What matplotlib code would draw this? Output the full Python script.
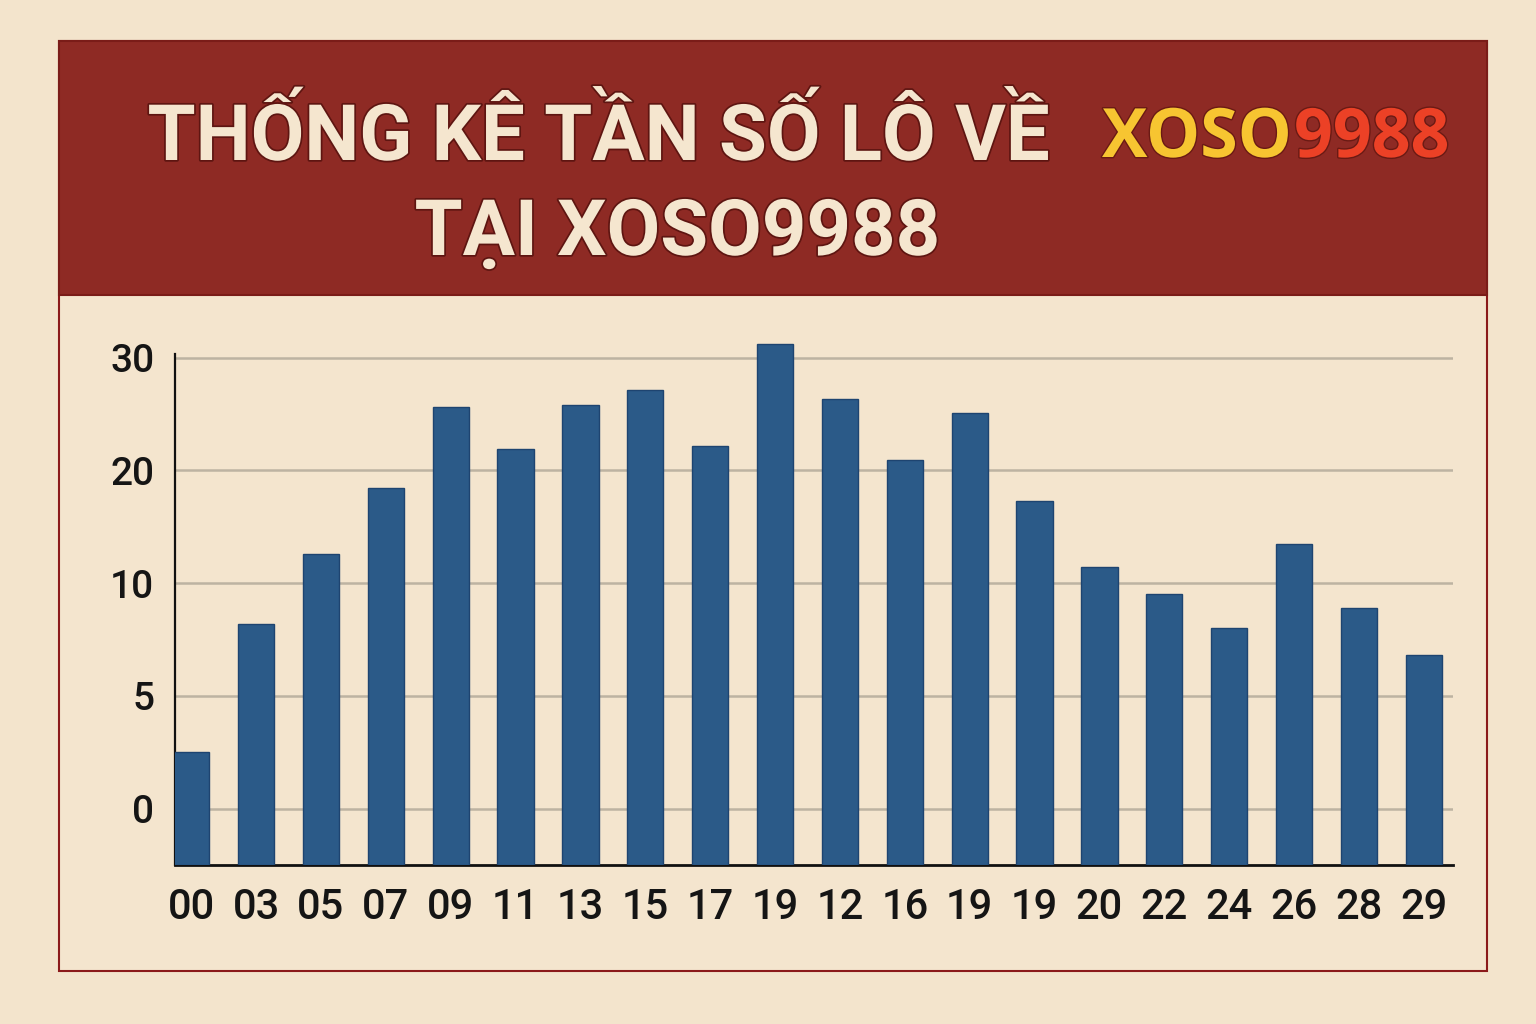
import numpy as np
import matplotlib
matplotlib.use("Agg")
import matplotlib.pyplot as plt
import matplotlib.patheffects as pe
from matplotlib.patches import Rectangle

# data
so_lo = ["00", "03", "05", "07", "09", "11", "13", "15", "17", "19",
         "12", "16", "19", "19", "20", "22", "24", "26", "28", "29"]
tan_so = [2.5, 8.2, 12.6, 18.4, 25.6, 21.9, 25.8, 27.1, 22.2, 31.2,
          26.3, 20.9, 25.1, 17.3, 11.4, 9.5, 8.0, 13.5, 8.9, 6.8]
y_ticks = [0, 5, 10, 20, 30]

title_1 = "THỐNG KÊ TẦN SỐ LÔ VỀ"
title_2 = "TẠI XOSO9988"

BG = "#F3E4CC"
RED = "#8E2A24"
BAR = "#2B5A88"

W, H = 1536, 1024
fig = plt.figure(figsize=(W / 100, H / 100), dpi=100, facecolor=BG)

def fx(px):
    return px / W

def fy(py):
    return 1 - py / H

# outer frame + red header
fig.add_artist(Rectangle((fx(59), fy(971)), fx(1487) - fx(59), fy(41) - fy(971),
                         transform=fig.transFigure, facecolor="#F4E5CE",
                         edgecolor="#8B1A1A", lw=1.5, zorder=0))
fig.add_artist(Rectangle((fx(59), fy(295)), fx(1487) - fx(59), fy(41) - fy(295),
                         transform=fig.transFigure, facecolor=RED,
                         edgecolor="#7A1C18", lw=1.5, zorder=1))

outline = [pe.withStroke(linewidth=2.5, foreground="#5E1511")]
fig.text(fx(598), fy(160), title_1, ha="center", va="baseline", fontsize=56,
         family="Roboto", weight="bold", color="#F5E6CF", path_effects=outline)
fig.text(fx(677), fy(255), title_2, ha="center", va="baseline", fontsize=56,
         family="Roboto", weight="bold", color="#F5E6CF", path_effects=outline)
logo_fx = [pe.withStroke(linewidth=2, foreground="#6A1A14")]
fig.text(fx(1292), fy(157), "XOSO", ha="right", va="baseline", fontsize=49,
         family="Open Sans", weight="bold", color="#F7C531", path_effects=logo_fx)
fig.text(fx(1294), fy(157), "9988", ha="left", va="baseline", fontsize=49,
         family="Open Sans", weight="bold", color="#EC4126", path_effects=logo_fx)

# piecewise axis: 0,5,10,20,30 equally spaced
tick_pos = [0, 1, 2, 3, 4]

def forward(v):
    v = np.asarray(v, dtype=float)
    out = np.interp(v, y_ticks, tick_pos)
    out = np.where(v < 0, v / 5.0, out)
    out = np.where(v > 30, 4 + (v - 30) / 10.0, out)
    return out

def inverse(p):
    p = np.asarray(p, dtype=float)
    out = np.interp(p, tick_pos, y_ticks)
    out = np.where(p < 0, p * 5.0, out)
    out = np.where(p > 4, 30 + (p - 4) * 10.0, out)
    return out

ax = fig.add_axes([fx(175), fy(865), fx(1453) - fx(175), fy(335) - fy(865)])
ax.set_facecolor("none")
ax.set_yscale("function", functions=(forward, inverse))

y_bottom = -2.5
x = np.arange(len(so_lo))
vals = np.array(tan_so)
ax.bar(x, vals - y_bottom, bottom=y_bottom, width=0.56, color=BAR,
       edgecolor="#1E4470", linewidth=1, zorder=3)

ax.set_ylim(y_bottom, 32.0)
ax.set_xlim(-0.25, 19.45)
ax.set_yticks(y_ticks)
ax.set_yticklabels([str(t) for t in y_ticks])
ax.set_xticks(x)
ax.set_xticklabels(so_lo)
ax.yaxis.grid(True, color="#BDB3A2", lw=1.8, zorder=1)
ax.tick_params(axis="y", length=0, pad=15, labelsize=28, labelcolor="#151515")
ax.tick_params(axis="x", length=0, pad=16, labelsize=30, labelcolor="#151515")
for lab in ax.get_xticklabels() + ax.get_yticklabels():
    lab.set_family("Roboto")
    lab.set_weight("medium")

for s in ["top", "right"]:
    ax.spines[s].set_visible(False)
ax.spines["left"].set_bounds(y_bottom, 30.3)
ax.spines["left"].set_linewidth(1.6)
ax.spines["bottom"].set_linewidth(2)
ax.spines["left"].set_color("#111111")
ax.spines["bottom"].set_color("#111111")

fig.savefig("out.png", dpi=100, facecolor=BG)
